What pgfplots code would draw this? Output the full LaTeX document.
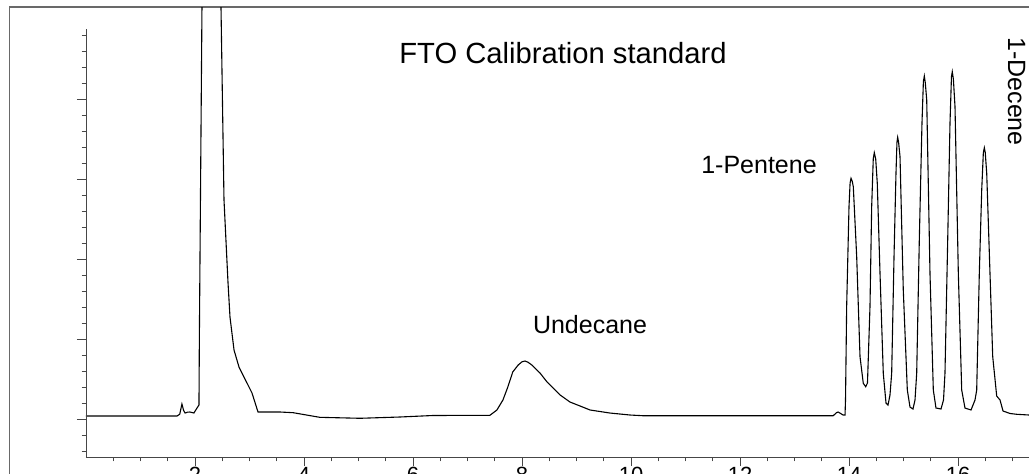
\documentclass[border=0pt]{standalone}
\usepackage{pgfplots}
\pgfplotsset{compat=1.18}
\usepackage{fontspec}
\setmainfont{Liberation Sans}
\definecolor{framecol}{RGB}{105,105,105}
\definecolor{axiscol}{RGB}{70,70,70}
\begin{document}
\begin{tikzpicture}
% 1 px of the reference = 0.5pt
\useasboundingbox (0,0) rectangle (514.5pt,236.5pt);
\clip (0,0) rectangle (514.5pt,236.5pt);
\draw[framecol, line width=0.6pt] (4.75pt,-10pt) -- (4.75pt,233pt) -- (540pt,233pt);
\begin{axis}[
    at={(43pt,8pt)}, anchor=south west,
    scale only axis, width=479.6pt, height=225pt,
    xmin=0, xmax=17.6, ymin=-0.475, ymax=5.15,
    axis x line*=bottom, axis y line*=left,
    x axis line style={axiscol, line width=0.5pt, -},
    y axis line style={draw=none},
    xtick={2,4,...,16},
    minor xtick={0.5,1,...,17.5},
    ytick={0,1,2,3,4},
    minor ytick={-0.4,-0.2,0.2,0.4,0.6,0.8,1.2,1.4,1.6,1.8,2.2,2.4,2.6,2.8,3.2,3.4,3.6,3.8,4.2,4.4,4.6,4.8},
    yticklabels={},
    tick align=outside,
    major tick length=4.5pt, minor tick length=2.2pt,
    every tick/.style={axiscol, line width=0.5pt},
    xticklabel style={font=\fontsize{11}{13}\selectfont, inner sep=0pt, anchor=north, yshift=-0.5pt},
    /pgf/number format/assume math mode=true,
]
\addplot[black, line width=0.55pt] coordinates {
(0,0.0375) (1.67,0.0375) (1.72,0.06) (1.76,0.1875) (1.79,0.11) (1.817,0.075)
(1.86,0.085) (1.908,0.0875) (1.95,0.08) (1.98,0.075) (2.037,0.1375) (2.073,0.175)
(2.08,1.0) (2.128,5.15) (2.30,7.0) (2.477,5.15) (2.532,2.74) (2.606,1.7)
(2.642,1.275) (2.716,0.8625) (2.807,0.65) (2.954,0.45) (3.046,0.325) (3.156,0.0875)
(3.56,0.0875) (3.80,0.079) (4.29,0.021) (5.03,0.009) (5.76,0.025) (6.37,0.044)
(7.41,0.046) (7.54,0.1125) (7.65,0.2375) (7.74,0.4) (7.83,0.5875) (7.93,0.675)
(8.00,0.715) (8.055,0.725) (8.11,0.71) (8.18,0.675) (8.33,0.575) (8.46,0.4625)
(8.70,0.30) (8.88,0.2125) (9.25,0.1125) (9.61,0.075) (9.98,0.05) (10.22,0.041)
(13.71,0.041) (13.77,0.079) (13.80,0.0875) (13.87,0.059) (13.89,0.05) (13.927,0.05)
(13.936,0.2375) (13.957,1.404) (14.0,2.654) (14.02,2.95) (14.037,3.009) (14.06,2.97)
(14.079,2.904) (14.141,2.029) (14.202,0.779) (14.262,0.446) (14.306,0.404) (14.339,0.45)
(14.385,1.404) (14.416,2.654) (14.445,3.25) (14.464,3.329) (14.49,3.25) (14.519,2.946)
(14.569,1.821) (14.629,0.571) (14.679,0.2) (14.716,0.175) (14.752,0.3) (14.783,0.571)
(14.826,2.029) (14.862,3.071) (14.88,3.46) (14.893,3.521) (14.91,3.46) (14.936,3.279)
(14.996,1.6125) (15.07,0.3625) (15.119,0.15) (15.174,0.125) (15.211,0.2375) (15.242,0.571)
(15.29,2.2375) (15.339,3.696) (15.365,4.22) (15.382,4.2875) (15.40,4.2) (15.426,3.9875)
(15.486,1.821) (15.547,0.3625) (15.596,0.1375) (15.688,0.125) (15.734,0.2375) (15.761,0.571)
(15.811,2.2375) (15.853,3.696) (15.88,4.28) (15.895,4.341) (15.915,4.25) (15.945,3.904)
(16.006,1.821) (16.068,0.3625) (16.128,0.1375) (16.239,0.1125) (16.312,0.2375) (16.343,0.3625)
(16.391,1.821) (16.435,2.8625) (16.465,3.33) (16.483,3.391) (16.50,3.33) (16.527,3.071)
(16.587,1.821) (16.637,0.779) (16.71,0.2875) (16.771,0.2375) (16.826,0.1) (16.954,0.069)
(17.077,0.059) (17.30,0.05) (17.6,0.05)
};
\end{axis}
\draw[axiscol, line width=0.5pt] (43pt,8pt) -- (43pt,222pt);
\node[anchor=base, inner sep=0pt, font=\fontsize{14.6}{17}\selectfont] at (281.5pt,205pt) {FTO Calibration standard};
\node[anchor=base, inner sep=0pt, font=\fontsize{12.5}{15}\selectfont] at (379.5pt,150pt) {1-Pentene};
\node[anchor=base, inner sep=0pt, font=\fontsize{12.5}{15}\selectfont] at (295pt,70pt) {Undecane};
\node[anchor=base west, rotate=-90, inner sep=0pt, font=\fontsize{12.5}{15}\selectfont] at (504pt,218pt) {1-Decene};
\end{tikzpicture}
\end{document}
